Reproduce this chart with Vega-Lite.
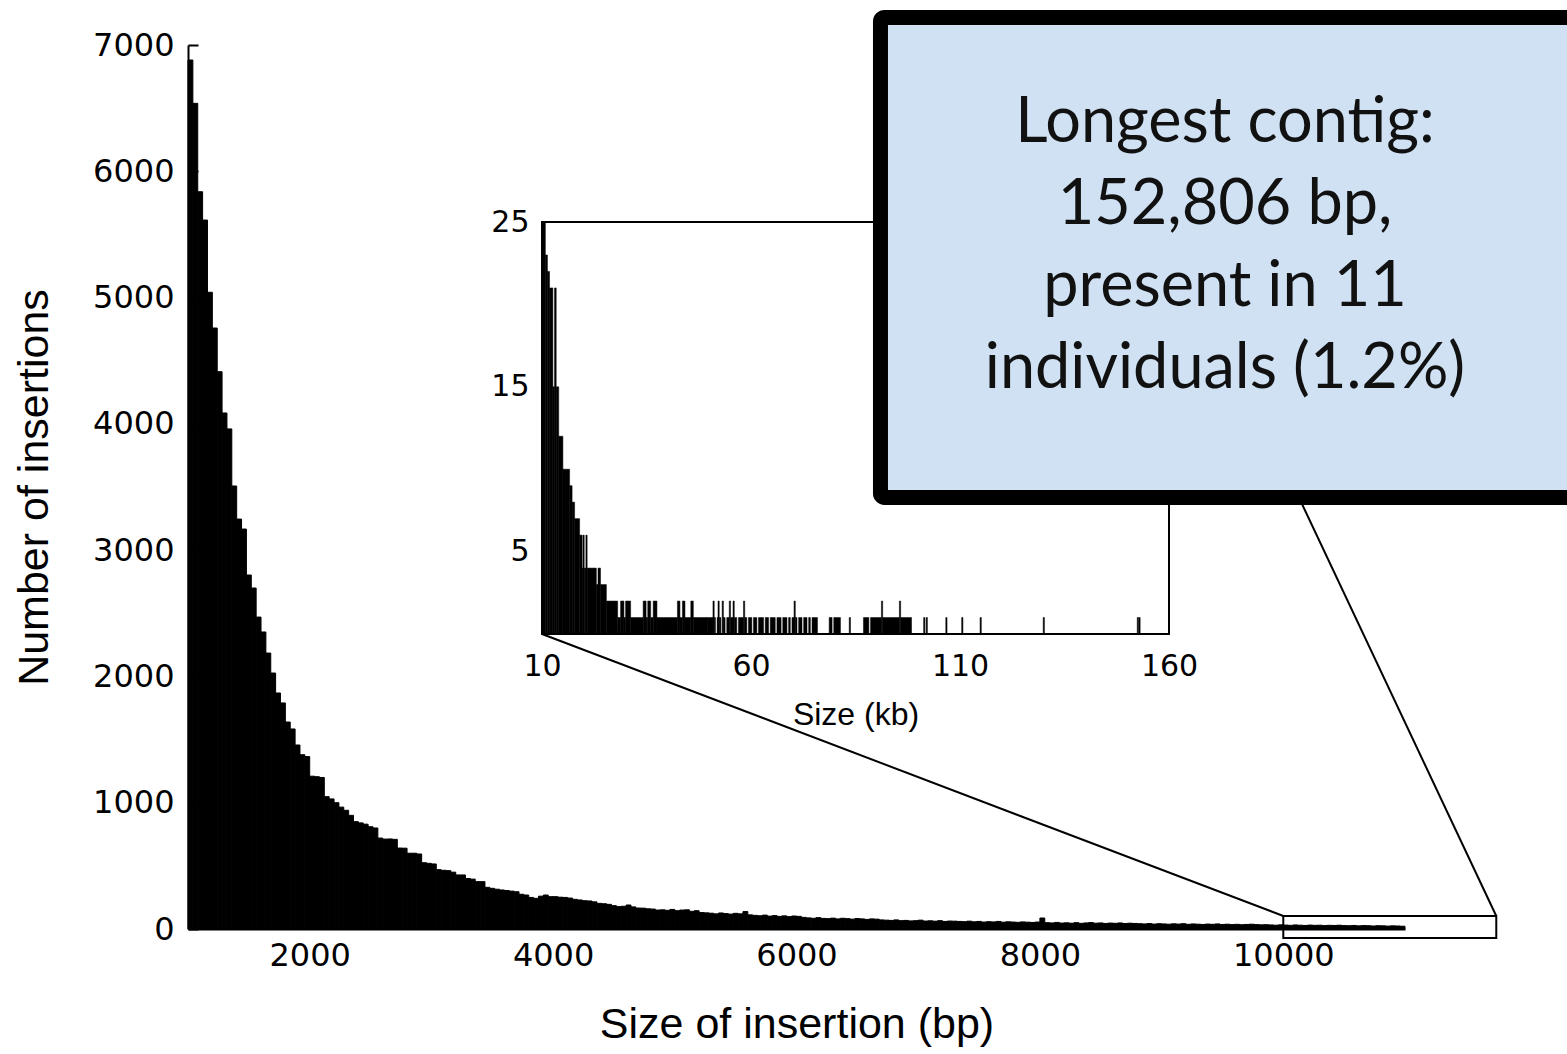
{
  "$schema": "https://vega.github.io/schema/vega-lite/v6.json",
  "width": 1217,
  "height": 884,
  "autosize": {"type": "none"},
  "padding": {"left": 188, "top": 45, "right": 162, "bottom": 125},
  "background": "white",
  "config": {"view": {"stroke": null}, "axis": {"grid": false}},
  "datasets": {
    "hist": [
      {"bin_start":1000,"bin_end":1040,"count":6881},{"bin_start":1040,"bin_end":1080,"count":6538},{"bin_start":1080,"bin_end":1120,"count":5838},{"bin_start":1120,"bin_end":1160,"count":5614},{"bin_start":1160,"bin_end":1200,"count":5042},{"bin_start":1200,"bin_end":1240,"count":4759},{"bin_start":1240,"bin_end":1280,"count":4413},{"bin_start":1280,"bin_end":1320,"count":4086},{"bin_start":1320,"bin_end":1360,"count":3960},{"bin_start":1360,"bin_end":1400,"count":3508},
      {"bin_start":1400,"bin_end":1440,"count":3246},{"bin_start":1440,"bin_end":1480,"count":3167},{"bin_start":1480,"bin_end":1520,"count":2803},{"bin_start":1520,"bin_end":1560,"count":2700},{"bin_start":1560,"bin_end":1600,"count":2470},{"bin_start":1600,"bin_end":1640,"count":2352},{"bin_start":1640,"bin_end":1680,"count":2185},{"bin_start":1680,"bin_end":1720,"count":2027},{"bin_start":1720,"bin_end":1760,"count":1869},{"bin_start":1760,"bin_end":1800,"count":1790},
      {"bin_start":1800,"bin_end":1840,"count":1639},{"bin_start":1840,"bin_end":1880,"count":1584},{"bin_start":1880,"bin_end":1920,"count":1457},{"bin_start":1920,"bin_end":1960,"count":1380},{"bin_start":1960,"bin_end":2000,"count":1365},{"bin_start":2000,"bin_end":2040,"count":1210},{"bin_start":2040,"bin_end":2080,"count":1206},{"bin_start":2080,"bin_end":2120,"count":1200},{"bin_start":2120,"bin_end":2160,"count":1048},{"bin_start":2160,"bin_end":2200,"count":1030},
      {"bin_start":2200,"bin_end":2240,"count":1000},{"bin_start":2240,"bin_end":2280,"count":965},{"bin_start":2280,"bin_end":2320,"count":940},{"bin_start":2320,"bin_end":2360,"count":900},{"bin_start":2360,"bin_end":2400,"count":850},{"bin_start":2400,"bin_end":2440,"count":840},{"bin_start":2440,"bin_end":2480,"count":830},{"bin_start":2480,"bin_end":2520,"count":810},{"bin_start":2520,"bin_end":2560,"count":800},{"bin_start":2560,"bin_end":2600,"count":720},
      {"bin_start":2600,"bin_end":2640,"count":712},{"bin_start":2640,"bin_end":2680,"count":713},{"bin_start":2680,"bin_end":2720,"count":710},{"bin_start":2720,"bin_end":2760,"count":641},{"bin_start":2760,"bin_end":2800,"count":640},{"bin_start":2800,"bin_end":2840,"count":600},{"bin_start":2840,"bin_end":2880,"count":600},{"bin_start":2880,"bin_end":2920,"count":594},{"bin_start":2920,"bin_end":2960,"count":525},{"bin_start":2960,"bin_end":3000,"count":520},
      {"bin_start":3000,"bin_end":3040,"count":515},{"bin_start":3040,"bin_end":3080,"count":470},{"bin_start":3080,"bin_end":3120,"count":465},{"bin_start":3120,"bin_end":3160,"count":462},{"bin_start":3160,"bin_end":3200,"count":450},{"bin_start":3200,"bin_end":3240,"count":428},{"bin_start":3240,"bin_end":3280,"count":428},{"bin_start":3280,"bin_end":3320,"count":400},{"bin_start":3320,"bin_end":3360,"count":395},{"bin_start":3360,"bin_end":3400,"count":375},
      {"bin_start":3400,"bin_end":3440,"count":375},{"bin_start":3440,"bin_end":3480,"count":330},{"bin_start":3480,"bin_end":3520,"count":322},{"bin_start":3520,"bin_end":3560,"count":315},{"bin_start":3560,"bin_end":3600,"count":309},{"bin_start":3600,"bin_end":3640,"count":305},{"bin_start":3640,"bin_end":3680,"count":300},{"bin_start":3680,"bin_end":3720,"count":295},{"bin_start":3720,"bin_end":3760,"count":275},{"bin_start":3760,"bin_end":3800,"count":269},
      {"bin_start":3800,"bin_end":3840,"count":250},{"bin_start":3840,"bin_end":3880,"count":243},{"bin_start":3880,"bin_end":3920,"count":260},{"bin_start":3920,"bin_end":3960,"count":269},{"bin_start":3960,"bin_end":4000,"count":256},{"bin_start":4000,"bin_end":4040,"count":256},{"bin_start":4040,"bin_end":4080,"count":252},{"bin_start":4080,"bin_end":4120,"count":250},{"bin_start":4120,"bin_end":4160,"count":245},{"bin_start":4160,"bin_end":4200,"count":235},
      {"bin_start":4200,"bin_end":4240,"count":230},{"bin_start":4240,"bin_end":4280,"count":224},{"bin_start":4280,"bin_end":4320,"count":222},{"bin_start":4320,"bin_end":4360,"count":215},{"bin_start":4360,"bin_end":4400,"count":203},{"bin_start":4400,"bin_end":4440,"count":200},{"bin_start":4440,"bin_end":4480,"count":195},{"bin_start":4480,"bin_end":4520,"count":185},{"bin_start":4520,"bin_end":4560,"count":177},{"bin_start":4560,"bin_end":4600,"count":180},
      {"bin_start":4600,"bin_end":4640,"count":190},{"bin_start":4640,"bin_end":4680,"count":175},{"bin_start":4680,"bin_end":4720,"count":166},{"bin_start":4720,"bin_end":4760,"count":165},{"bin_start":4760,"bin_end":4800,"count":160},{"bin_start":4800,"bin_end":4840,"count":158},{"bin_start":4840,"bin_end":4880,"count":150},{"bin_start":4880,"bin_end":4920,"count":152},{"bin_start":4920,"bin_end":4960,"count":148},{"bin_start":4960,"bin_end":5000,"count":155},
      {"bin_start":5000,"bin_end":5040,"count":145},{"bin_start":5040,"bin_end":5080,"count":150},{"bin_start":5080,"bin_end":5120,"count":152},{"bin_start":5120,"bin_end":5160,"count":140},{"bin_start":5160,"bin_end":5200,"count":145},{"bin_start":5200,"bin_end":5240,"count":130},{"bin_start":5240,"bin_end":5280,"count":128},{"bin_start":5280,"bin_end":5320,"count":125},{"bin_start":5320,"bin_end":5360,"count":120},{"bin_start":5360,"bin_end":5400,"count":127},
      {"bin_start":5400,"bin_end":5440,"count":122},{"bin_start":5440,"bin_end":5480,"count":118},{"bin_start":5480,"bin_end":5520,"count":124},{"bin_start":5520,"bin_end":5560,"count":120},{"bin_start":5560,"bin_end":5600,"count":138},{"bin_start":5600,"bin_end":5640,"count":112},{"bin_start":5640,"bin_end":5680,"count":108},{"bin_start":5680,"bin_end":5720,"count":105},{"bin_start":5720,"bin_end":5760,"count":110},{"bin_start":5760,"bin_end":5800,"count":102},
      {"bin_start":5800,"bin_end":5840,"count":106},{"bin_start":5840,"bin_end":5880,"count":100},{"bin_start":5880,"bin_end":5920,"count":104},{"bin_start":5920,"bin_end":5960,"count":98},{"bin_start":5960,"bin_end":6000,"count":103},{"bin_start":6000,"bin_end":6040,"count":100},{"bin_start":6040,"bin_end":6080,"count":92},{"bin_start":6080,"bin_end":6120,"count":88},{"bin_start":6120,"bin_end":6160,"count":85},{"bin_start":6160,"bin_end":6200,"count":90},
      {"bin_start":6200,"bin_end":6240,"count":84},{"bin_start":6240,"bin_end":6280,"count":82},{"bin_start":6280,"bin_end":6320,"count":86},{"bin_start":6320,"bin_end":6360,"count":80},{"bin_start":6360,"bin_end":6400,"count":85},{"bin_start":6400,"bin_end":6440,"count":82},{"bin_start":6440,"bin_end":6480,"count":78},{"bin_start":6480,"bin_end":6520,"count":83},{"bin_start":6520,"bin_end":6560,"count":80},{"bin_start":6560,"bin_end":6600,"count":76},
      {"bin_start":6600,"bin_end":6640,"count":80},{"bin_start":6640,"bin_end":6680,"count":78},{"bin_start":6680,"bin_end":6720,"count":72},{"bin_start":6720,"bin_end":6760,"count":70},{"bin_start":6760,"bin_end":6800,"count":68},{"bin_start":6800,"bin_end":6840,"count":72},{"bin_start":6840,"bin_end":6880,"count":66},{"bin_start":6880,"bin_end":6920,"count":68},{"bin_start":6920,"bin_end":6960,"count":64},{"bin_start":6960,"bin_end":7000,"count":66},
      {"bin_start":7000,"bin_end":7040,"count":70},{"bin_start":7040,"bin_end":7080,"count":63},{"bin_start":7080,"bin_end":7120,"count":65},{"bin_start":7120,"bin_end":7160,"count":62},{"bin_start":7160,"bin_end":7200,"count":66},{"bin_start":7200,"bin_end":7240,"count":60},{"bin_start":7240,"bin_end":7280,"count":63},{"bin_start":7280,"bin_end":7320,"count":62},{"bin_start":7320,"bin_end":7360,"count":60},{"bin_start":7360,"bin_end":7400,"count":58},
      {"bin_start":7400,"bin_end":7440,"count":62},{"bin_start":7440,"bin_end":7480,"count":57},{"bin_start":7480,"bin_end":7520,"count":60},{"bin_start":7520,"bin_end":7560,"count":55},{"bin_start":7560,"bin_end":7600,"count":58},{"bin_start":7600,"bin_end":7640,"count":56},{"bin_start":7640,"bin_end":7680,"count":60},{"bin_start":7680,"bin_end":7720,"count":54},{"bin_start":7720,"bin_end":7760,"count":57},{"bin_start":7760,"bin_end":7800,"count":55},
      {"bin_start":7800,"bin_end":7840,"count":53},{"bin_start":7840,"bin_end":7880,"count":56},{"bin_start":7880,"bin_end":7920,"count":54},{"bin_start":7920,"bin_end":7960,"count":52},{"bin_start":7960,"bin_end":8000,"count":55},{"bin_start":8000,"bin_end":8040,"count":87},{"bin_start":8040,"bin_end":8080,"count":50},{"bin_start":8080,"bin_end":8120,"count":48},{"bin_start":8120,"bin_end":8160,"count":52},{"bin_start":8160,"bin_end":8200,"count":47},
      {"bin_start":8200,"bin_end":8240,"count":49},{"bin_start":8240,"bin_end":8280,"count":46},{"bin_start":8280,"bin_end":8320,"count":50},{"bin_start":8320,"bin_end":8360,"count":45},{"bin_start":8360,"bin_end":8400,"count":48},{"bin_start":8400,"bin_end":8440,"count":51},{"bin_start":8440,"bin_end":8480,"count":46},{"bin_start":8480,"bin_end":8520,"count":48},{"bin_start":8520,"bin_end":8560,"count":44},{"bin_start":8560,"bin_end":8600,"count":47},
      {"bin_start":8600,"bin_end":8640,"count":45},{"bin_start":8640,"bin_end":8680,"count":48},{"bin_start":8680,"bin_end":8720,"count":43},{"bin_start":8720,"bin_end":8760,"count":46},{"bin_start":8760,"bin_end":8800,"count":44},{"bin_start":8800,"bin_end":8840,"count":42},{"bin_start":8840,"bin_end":8880,"count":40},{"bin_start":8880,"bin_end":8920,"count":43},{"bin_start":8920,"bin_end":8960,"count":39},{"bin_start":8960,"bin_end":9000,"count":42},
      {"bin_start":9000,"bin_end":9040,"count":40},{"bin_start":9040,"bin_end":9080,"count":38},{"bin_start":9080,"bin_end":9120,"count":41},{"bin_start":9120,"bin_end":9160,"count":39},{"bin_start":9160,"bin_end":9200,"count":42},{"bin_start":9200,"bin_end":9240,"count":37},{"bin_start":9240,"bin_end":9280,"count":40},{"bin_start":9280,"bin_end":9320,"count":38},{"bin_start":9320,"bin_end":9360,"count":36},{"bin_start":9360,"bin_end":9400,"count":39},
      {"bin_start":9400,"bin_end":9440,"count":37},{"bin_start":9440,"bin_end":9480,"count":40},{"bin_start":9480,"bin_end":9520,"count":36},{"bin_start":9520,"bin_end":9560,"count":38},{"bin_start":9560,"bin_end":9600,"count":35},{"bin_start":9600,"bin_end":9640,"count":37},{"bin_start":9640,"bin_end":9680,"count":34},{"bin_start":9680,"bin_end":9720,"count":36},{"bin_start":9720,"bin_end":9760,"count":38},{"bin_start":9760,"bin_end":9800,"count":35},
      {"bin_start":9800,"bin_end":9840,"count":33},{"bin_start":9840,"bin_end":9880,"count":34},{"bin_start":9880,"bin_end":9920,"count":32},{"bin_start":9920,"bin_end":9960,"count":30},{"bin_start":9960,"bin_end":10000,"count":33},{"bin_start":10000,"bin_end":10040,"count":31},{"bin_start":10040,"bin_end":10080,"count":29},{"bin_start":10080,"bin_end":10120,"count":32},{"bin_start":10120,"bin_end":10160,"count":30},{"bin_start":10160,"bin_end":10200,"count":28},
      {"bin_start":10200,"bin_end":10240,"count":31},{"bin_start":10240,"bin_end":10280,"count":29},{"bin_start":10280,"bin_end":10320,"count":30},{"bin_start":10320,"bin_end":10360,"count":27},{"bin_start":10360,"bin_end":10400,"count":29},{"bin_start":10400,"bin_end":10440,"count":28},{"bin_start":10440,"bin_end":10480,"count":30},{"bin_start":10480,"bin_end":10520,"count":27},{"bin_start":10520,"bin_end":10560,"count":26},{"bin_start":10560,"bin_end":10600,"count":28},
      {"bin_start":10600,"bin_end":10640,"count":25},{"bin_start":10640,"bin_end":10680,"count":27},{"bin_start":10680,"bin_end":10720,"count":26},{"bin_start":10720,"bin_end":10760,"count":24},{"bin_start":10760,"bin_end":10800,"count":26},{"bin_start":10800,"bin_end":10840,"count":25},{"bin_start":10840,"bin_end":10880,"count":23},{"bin_start":10880,"bin_end":10920,"count":25},{"bin_start":10920,"bin_end":10960,"count":24},{"bin_start":10960,"bin_end":11000,"count":22}
    ],
    "inset": [
      {"kb_start":10.0,"kb_end":10.8,"count":25},{"kb_start":10.8,"kb_end":11.3,"count":23},{"kb_start":11.3,"kb_end":11.8,"count":22},{"kb_start":11.8,"kb_end":12.6,"count":21},{"kb_start":12.6,"kb_end":13.0,"count":15},{"kb_start":13.0,"kb_end":13.4,"count":21},{"kb_start":13.4,"kb_end":14.0,"count":15},{"kb_start":14.0,"kb_end":15.0,"count":12},{"kb_start":15.0,"kb_end":16.6,"count":10},{"kb_start":16.6,"kb_end":17.2,"count":9},
      {"kb_start":17.2,"kb_end":17.8,"count":8},{"kb_start":17.8,"kb_end":19.0,"count":7},{"kb_start":19.0,"kb_end":19.6,"count":6},{"kb_start":19.6,"kb_end":19.8,"count":4},{"kb_start":19.8,"kb_end":20.1,"count":6},{"kb_start":20.1,"kb_end":20.5,"count":4},{"kb_start":20.5,"kb_end":20.8,"count":6},{"kb_start":20.8,"kb_end":23.0,"count":4},{"kb_start":23.0,"kb_end":23.4,"count":3},{"kb_start":23.4,"kb_end":24.0,"count":4},
      {"kb_start":24.0,"kb_end":25.4,"count":3},{"kb_start":25.4,"kb_end":28.1,"count":2},{"kb_start":28.1,"kb_end":28.8,"count":1},{"kb_start":28.8,"kb_end":29.6,"count":2},{"kb_start":29.6,"kb_end":30.0,"count":1},{"kb_start":30.0,"kb_end":31.2,"count":2},{"kb_start":31.2,"kb_end":34.2,"count":1},{"kb_start":34.2,"kb_end":34.9,"count":2},{"kb_start":34.9,"kb_end":35.3,"count":1},{"kb_start":35.3,"kb_end":36.0,"count":2},
      {"kb_start":36.0,"kb_end":36.6,"count":1},{"kb_start":36.6,"kb_end":37.5,"count":2},{"kb_start":37.5,"kb_end":42.4,"count":1},{"kb_start":42.4,"kb_end":43.0,"count":2},{"kb_start":43.0,"kb_end":43.6,"count":1},{"kb_start":43.6,"kb_end":44.2,"count":2},{"kb_start":44.2,"kb_end":45.6,"count":1},{"kb_start":45.6,"kb_end":46.2,"count":2},{"kb_start":46.2,"kb_end":49.5,"count":1},
      {"kb_start":49.5,"kb_end":50.9,"count":1},{"kb_start":50.9,"kb_end":51.2,"count":2},{"kb_start":51.2,"kb_end":51.5,"count":1},{"kb_start":51.9,"kb_end":52.1,"count":1},{"kb_start":52.1,"kb_end":52.4,"count":2},{"kb_start":52.4,"kb_end":52.8,"count":1},{"kb_start":53.1,"kb_end":53.4,"count":2},{"kb_start":53.4,"kb_end":53.8,"count":1},{"kb_start":54.2,"kb_end":54.8,"count":1},{"kb_start":54.8,"kb_end":55.1,"count":2},
      {"kb_start":55.1,"kb_end":55.7,"count":1},{"kb_start":55.7,"kb_end":56.0,"count":2},{"kb_start":56.0,"kb_end":56.6,"count":1},{"kb_start":57.0,"kb_end":58.2,"count":1},{"kb_start":58.2,"kb_end":58.5,"count":2},{"kb_start":58.5,"kb_end":59.0,"count":1},{"kb_start":59.4,"kb_end":60.2,"count":1},{"kb_start":60.6,"kb_end":61.4,"count":1},{"kb_start":61.8,"kb_end":63.0,"count":1},{"kb_start":63.4,"kb_end":64.2,"count":1},
      {"kb_start":64.6,"kb_end":65.8,"count":1},{"kb_start":66.2,"kb_end":67.2,"count":1},{"kb_start":67.6,"kb_end":68.6,"count":1},{"kb_start":69.0,"kb_end":69.4,"count":1},{"kb_start":69.8,"kb_end":70.3,"count":1},{"kb_start":70.3,"kb_end":70.6,"count":2},{"kb_start":70.6,"kb_end":71.0,"count":1},{"kb_start":71.4,"kb_end":72.2,"count":1},{"kb_start":72.6,"kb_end":73.4,"count":1},{"kb_start":73.8,"kb_end":74.2,"count":1},
      {"kb_start":74.6,"kb_end":75.9,"count":1},{"kb_start":78.7,"kb_end":79.4,"count":1},{"kb_start":79.8,"kb_end":81.4,"count":1},{"kb_start":83.5,"kb_end":83.8,"count":1},{"kb_start":86.9,"kb_end":88.2,"count":1},{"kb_start":88.6,"kb_end":91.2,"count":1},{"kb_start":91.2,"kb_end":91.5,"count":2},{"kb_start":91.5,"kb_end":95.5,"count":1},{"kb_start":95.5,"kb_end":95.8,"count":2},{"kb_start":95.8,"kb_end":98.4,"count":1},
      {"kb_start":101.3,"kb_end":101.6,"count":1},{"kb_start":101.9,"kb_end":102.2,"count":1},{"kb_start":106.6,"kb_end":106.9,"count":1},{"kb_start":110.4,"kb_end":110.7,"count":1},{"kb_start":114.8,"kb_end":115.1,"count":1},{"kb_start":129.9,"kb_end":130.2,"count":1},{"kb_start":152.4,"kb_end":152.7,"count":1},{"kb_start":152.8,"kb_end":153.1,"count":1}
    ],
    "links": [
      {"from_bp": 3909, "from_n": 2336, "to_bp": 10000, "to_n": 103},
      {"from_bp": 9061, "from_n": 5598, "to_bp": 11750, "to_n": 103}
    ],
    "note": [
      {"label": "Longest contig:\n152,806 bp,\npresent in 11\nindividuals (1.2%)"}
    ]
  },
  "layer": [
    {
      "layer": [
        {
          "data": {"name": "hist"},
          "mark": {"type": "rect", "color": "black", "stroke": "black", "strokeWidth": 1},
          "encoding": {
            "x": {
              "field": "bin_start", "type": "quantitative",
              "scale": {"domain": [1000, 11000], "nice": false, "zero": false},
              "axis": {
                "orient": "bottom", "title": "Size of insertion (bp)",
                "values": [2000, 4000, 6000, 8000, 10000], "format": "d",
                "ticks": false, "domain": true, "domainColor": "black", "domainWidth": 2,
                "labelFont": "DejaVu Sans", "labelFontSize": 32, "labelColor": "black",
                "labelPadding": 11, "labelFlush": false, "labelOverlap": false,
                "titleFont": "Liberation Sans", "titleFontSize": 43, "titleFontWeight": "normal",
                "titleColor": "black", "titlePadding": 32
              }
            },
            "x2": {"field": "bin_end"},
            "y": {
              "field": "count", "type": "quantitative",
              "scale": {"domain": [0, 7000], "nice": false},
              "axis": {
                "orient": "left", "title": "Number of insertions",
                "values": [0, 1000, 2000, 3000, 4000, 5000, 6000, 7000], "format": "d",
                "ticks": true, "tickSize": -10, "tickColor": "black", "tickWidth": 2,
                "domain": true, "domainColor": "black", "domainWidth": 2,
                "labelFont": "DejaVu Sans", "labelFontSize": 32, "labelColor": "black",
                "labelPadding": 24, "labelFlush": false, "labelOverlap": false,
                "titleFont": "Liberation Sans", "titleFontSize": 43, "titleFontWeight": "normal",
                "titleColor": "black", "titlePadding": 36
              }
            },
            "y2": {"datum": 0}
          }
        },
        {
          "data": {"values": [{"region": "10-11.75 kb"}]},
          "mark": {"type": "rect", "fill": null, "fillOpacity": 0, "stroke": "black", "strokeWidth": 2},
          "encoding": {
            "x": {"datum": 10000, "type": "quantitative"},
            "x2": {"datum": 11750},
            "y": {"datum": -71, "type": "quantitative"},
            "y2": {"datum": 103}
          }
        },
        {
          "data": {"name": "links"},
          "mark": {"type": "rule", "color": "black", "strokeWidth": 2},
          "encoding": {
            "x": {"field": "from_bp", "type": "quantitative"},
            "y": {"field": "from_n", "type": "quantitative"},
            "x2": {"field": "to_bp"},
            "y2": {"field": "to_n"}
          }
        }
      ]
    },
    {
      "layer": [
        {
          "data": {"name": "inset"},
          "mark": {"type": "rect", "color": "black", "stroke": "black", "strokeWidth": 0.5},
          "encoding": {
            "x": {
              "field": "kb_start", "type": "quantitative",
              "scale": {"domain": [10, 160], "range": [354, 981], "nice": false, "zero": false},
              "axis": {
                "orient": "bottom", "offset": -295, "title": "Size (kb)",
                "values": [10, 60, 110, 160], "format": "d",
                "ticks": false, "domain": false,
                "labelFont": "DejaVu Sans", "labelFontSize": 30, "labelColor": "black",
                "labelPadding": 17, "labelFlush": false, "labelOverlap": false,
                "titleFont": "Liberation Sans", "titleFontSize": 32, "titleFontWeight": "normal",
                "titleColor": "black", "titlePadding": 18
              }
            },
            "x2": {"field": "kb_end"},
            "y": {
              "field": "count", "type": "quantitative",
              "scale": {"domain": [0, 25], "range": [589, 177], "nice": false},
              "axis": {
                "orient": "left", "offset": -354, "title": null,
                "values": [5, 15, 25], "format": "d",
                "ticks": false, "domain": false,
                "labelFont": "DejaVu Sans", "labelFontSize": 30, "labelColor": "black",
                "labelPadding": 13, "labelFlush": false, "labelOverlap": false
              }
            },
            "y2": {"datum": 0}
          }
        },
        {
          "data": {"values": [{"frame": "inset"}]},
          "mark": {"type": "rect", "fill": null, "fillOpacity": 0, "stroke": "black", "strokeWidth": 2},
          "encoding": {
            "x": {"datum": 10, "type": "quantitative"},
            "x2": {"datum": 160},
            "y": {"datum": 0, "type": "quantitative"},
            "y2": {"datum": 25}
          }
        }
      ]
    },
    {
      "layer": [
        {
          "data": {"values": [{"box": "callout"}]},
          "mark": {"type": "rect", "fill": "#cfe1f2", "stroke": "black", "strokeWidth": 15, "cornerRadius": 4},
          "encoding": {
            "x": {"datum": 6690, "type": "quantitative", "scale": {"domain": [1000, 11000], "nice": false, "zero": false}, "axis": null},
            "x2": {"datum": 12400},
            "y": {"datum": 3417, "type": "quantitative", "scale": {"domain": [0, 7000], "nice": false}, "axis": null},
            "y2": {"datum": 7218}
          }
        },
        {
          "data": {"name": "note"},
          "mark": {"type": "text", "align": "center", "baseline": "alphabetic", "lineBreak": "\n", "lineHeight": 82, "font": "Lato", "fontSize": 63, "color": "#111111"},
          "encoding": {
            "x": {"datum": 9521, "type": "quantitative"},
            "y": {"datum": 6234, "type": "quantitative"},
            "text": {"field": "label", "type": "nominal"}
          }
        }
      ]
    }
  ],
  "resolve": {
    "scale": {"x": "independent", "y": "independent"},
    "axis": {"x": "independent", "y": "independent"}
  }
}
